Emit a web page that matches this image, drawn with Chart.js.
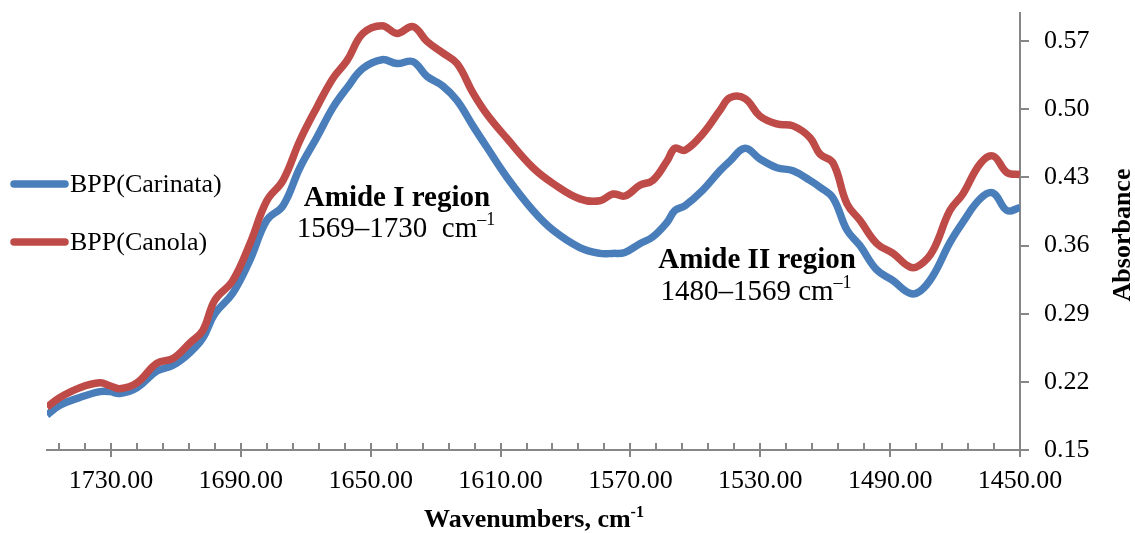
<!DOCTYPE html>
<html>
<head>
<meta charset="utf-8">
<script src="https://cdn.jsdelivr.net/npm/chart.js@4/dist/chart.umd.min.js"></script>
<style>
  html, body { margin: 0; padding: 0; background: #ffffff; }
  #wrap { width: 1135px; height: 533px; position: relative; }
</style>
</head>
<body>
<div id="wrap"><canvas id="spectrum" width="1135" height="533"></canvas></div>
<script>
// FTIR absorbance spectra, amide I / amide II window
const wavenumbers = [1749.7, 1745.7, 1739.6, 1733.4, 1730.3, 1727.3, 1722.0, 1715.9, 1710.9, 1705.7,
  1701.7, 1698.0, 1692.5, 1687.2, 1682.0, 1677.0, 1671.8, 1666.6, 1661.6, 1657.3,
  1652.4, 1646.5, 1641.9, 1637.0, 1632.7, 1627.8, 1623.4, 1618.5, 1614.2, 1608.0,
  1600.0, 1593.9, 1585.6, 1579.4, 1575.4, 1571.7, 1567.1, 1563.1, 1558.7, 1556.3,
  1553.2, 1547.7, 1542.4, 1539.3, 1534.7, 1530.1, 1524.9, 1519.9, 1514.7, 1511.6,
  1507.6, 1503.3, 1499.3, 1494.1, 1489.1, 1483.9, 1480.8, 1476.8, 1471.6, 1467.6,
  1462.3, 1458.3, 1454.0, 1450.0];

const carinata = [0.186, 0.196, 0.204, 0.210, 0.210, 0.208, 0.214, 0.231, 0.237, 0.250,
  0.265, 0.290, 0.311, 0.345, 0.386, 0.401, 0.440, 0.471, 0.502, 0.522,
  0.542, 0.551, 0.547, 0.549, 0.534, 0.524, 0.509, 0.483, 0.461, 0.430,
  0.396, 0.376, 0.358, 0.352, 0.352, 0.353, 0.362, 0.369, 0.384, 0.396,
  0.401, 0.417, 0.437, 0.447, 0.460, 0.449, 0.440, 0.437, 0.427, 0.420,
  0.409, 0.376, 0.360, 0.335, 0.324, 0.311, 0.313, 0.329, 0.363, 0.384,
  0.408, 0.414, 0.396, 0.399];

const canola = [0.194, 0.204, 0.214, 0.219, 0.216, 0.213, 0.219, 0.239, 0.244, 0.260,
  0.273, 0.304, 0.324, 0.362, 0.406, 0.427, 0.468, 0.502, 0.532, 0.550,
  0.578, 0.586, 0.578, 0.585, 0.570, 0.558, 0.547, 0.517, 0.495, 0.470,
  0.440, 0.424, 0.408, 0.406, 0.413, 0.411, 0.422, 0.427, 0.447, 0.460,
  0.458, 0.475, 0.499, 0.512, 0.511, 0.493, 0.485, 0.483, 0.471, 0.454,
  0.445, 0.403, 0.386, 0.362, 0.352, 0.338, 0.340, 0.355, 0.396, 0.413,
  0.444, 0.452, 0.435, 0.433];

const seriesNames = ['BPP(Carinata)', 'BPP(Canola)'];
const seriesColors = ['#4A7EBB', '#BE4B48'];

const xTickValues = [1730, 1690, 1650, 1610, 1570, 1530, 1490, 1450];
const yTickValues = [0.15, 0.22, 0.29, 0.36, 0.43, 0.50, 0.57];

const X_MIN = 1450, X_MAX = 1749.7, X_MINOR_STEP = 8;
const Y_MIN = 0.15, Y_MAX = 0.60;

const SERIF = "'Liberation Serif', 'Times New Roman', serif";
const AXIS_GREY = '#878787';
const LINE_WIDTH = 7.5;

function pointsOf(values) {
  return wavenumbers.map((w, i) => ({ x: w, y: values[i] }));
}

// text with an optional raised superscript tail
function drawWithSup(ctx, text, sup, x, y, size, bold, align) {
  const weight = bold ? 'bold ' : '';
  const supSize = Math.round(size * 0.62);
  ctx.font = weight + size + 'px ' + SERIF;
  const w1 = ctx.measureText(text).width;
  ctx.font = weight + supSize + 'px ' + SERIF;
  const w2 = sup ? ctx.measureText(sup).width : 0;
  let x0 = x;
  if (align === 'center') x0 = x - (w1 + w2) / 2;
  ctx.textAlign = 'left';
  ctx.textBaseline = 'alphabetic';
  ctx.font = weight + size + 'px ' + SERIF;
  ctx.fillText(text, x0, y);
  if (sup) {
    ctx.font = weight + supSize + 'px ' + SERIF;
    ctx.fillText(sup, x0 + w1, y - size * 0.40);
  }
}

const decorations = {
  id: 'decorations',
  beforeDatasetsDraw(chart) {
    const { ctx, chartArea: a, scales: { x, y } } = chart;
    ctx.save();
    ctx.strokeStyle = AXIS_GREY;
    ctx.lineWidth = 2;
    // axis lines
    ctx.beginPath();
    ctx.moveTo(a.left - 1, a.bottom);
    ctx.lineTo(a.right, a.bottom);
    ctx.moveTo(a.right, a.top);
    ctx.lineTo(a.right, a.bottom);
    ctx.stroke();
    // minor ticks on the wavenumber axis
    ctx.beginPath();
    for (let v = X_MIN; v <= X_MAX; v += X_MINOR_STEP) {
      if (xTickValues.includes(v)) continue;
      const px = Math.round(x.getPixelForValue(v));
      ctx.moveTo(px, a.bottom - 7);
      ctx.lineTo(px, a.bottom);
    }
    // major ticks cross the axis
    xTickValues.forEach(v => {
      const px = Math.round(x.getPixelForValue(v));
      ctx.moveTo(px, a.bottom - 7);
      ctx.lineTo(px, a.bottom + 7);
    });
    // absorbance ticks point outward
    yTickValues.forEach(v => {
      const py = Math.round(y.getPixelForValue(v));
      ctx.moveTo(a.right, py);
      ctx.lineTo(a.right + 9, py);
    });
    ctx.stroke();
    ctx.restore();
  },
  afterDraw(chart) {
    const { ctx } = chart;
    ctx.save();
    ctx.fillStyle = '#000000';

    // legend
    chart.data.datasets.forEach((ds, i) => {
      const ly = [184, 242][i];
      ctx.strokeStyle = ds.borderColor;
      ctx.lineWidth = LINE_WIDTH;
      ctx.lineCap = 'round';
      ctx.beginPath();
      ctx.moveTo(14, ly);
      ctx.lineTo(65, ly);
      ctx.stroke();
      ctx.font = '26px ' + SERIF;
      ctx.textAlign = 'left';
      ctx.textBaseline = 'middle';
      ctx.fillText(ds.label, 70, ly + 1);
    });

    // region annotations
    drawWithSup(ctx, 'Amide I region', '', 397, 206, 29, true, 'center');
    drawWithSup(ctx, '1569\u20131730  cm', '\u20131', 396, 237, 29, false, 'center');
    drawWithSup(ctx, 'Amide II region', '', 757, 268, 29, true, 'center');
    drawWithSup(ctx, '1480\u20131569 cm', '\u20131', 756, 300, 29, false, 'center');

    // axis titles
    drawWithSup(ctx, 'Wavenumbers, cm', '-1', 534, 527, 26, true, 'center');
    ctx.translate(1130, 235);
    ctx.rotate(-Math.PI / 2);
    ctx.font = 'bold 26px ' + SERIF;
    ctx.textAlign = 'center';
    ctx.textBaseline = 'alphabetic';
    ctx.fillText('Absorbance', 0, 0);
    ctx.restore();
  }
};

new Chart(document.getElementById('spectrum'), {
  type: 'line',
  data: {
    datasets: [
      { label: seriesNames[0], data: pointsOf(carinata), borderColor: seriesColors[0], order: 2 },
      { label: seriesNames[1], data: pointsOf(canola), borderColor: seriesColors[1], order: 1 }
    ]
  },
  options: {
    responsive: false,
    devicePixelRatio: 1,
    animation: false,
    parsing: false,
    clip: 0,
    layout: { padding: { left: 47, top: 12, right: 0, bottom: 0 } },
    elements: {
      line: { borderWidth: LINE_WIDTH, tension: 0.4, borderCapStyle: 'butt', borderJoinStyle: 'round', fill: false },
      point: { radius: 0, hoverRadius: 0 }
    },
    plugins: { legend: { display: false }, tooltip: { enabled: false }, title: { display: false } },
    scales: {
      x: {
        type: 'linear',
        reverse: true,
        min: X_MIN,
        max: X_MAX,
        afterBuildTicks: s => { s.ticks = xTickValues.map(v => ({ value: v })); },
        afterFit: s => { s.height = 83; s.paddingLeft = 0; s.paddingRight = 0; },
        grid: { display: false, drawTicks: false },
        border: { display: false },
        ticks: {
          padding: 16,
          maxRotation: 0,
          autoSkip: false,
          color: '#000000',
          font: { family: SERIF, size: 26 },
          callback: v => Number(v).toFixed(2)
        }
      },
      y: {
        type: 'linear',
        position: 'right',
        min: Y_MIN,
        max: Y_MAX,
        afterBuildTicks: s => { s.ticks = yTickValues.map(v => ({ value: v })); },
        afterFit: s => { s.width = 115; s.paddingTop = 0; s.paddingBottom = 0; },
        grid: { display: false, drawTicks: false },
        border: { display: false },
        ticks: {
          padding: 24,
          autoSkip: false,
          color: '#000000',
          font: { family: SERIF, size: 26 },
          callback: v => Number(v).toFixed(2)
        }
      }
    }
  },
  plugins: [decorations]
});
</script>
</body>
</html>
